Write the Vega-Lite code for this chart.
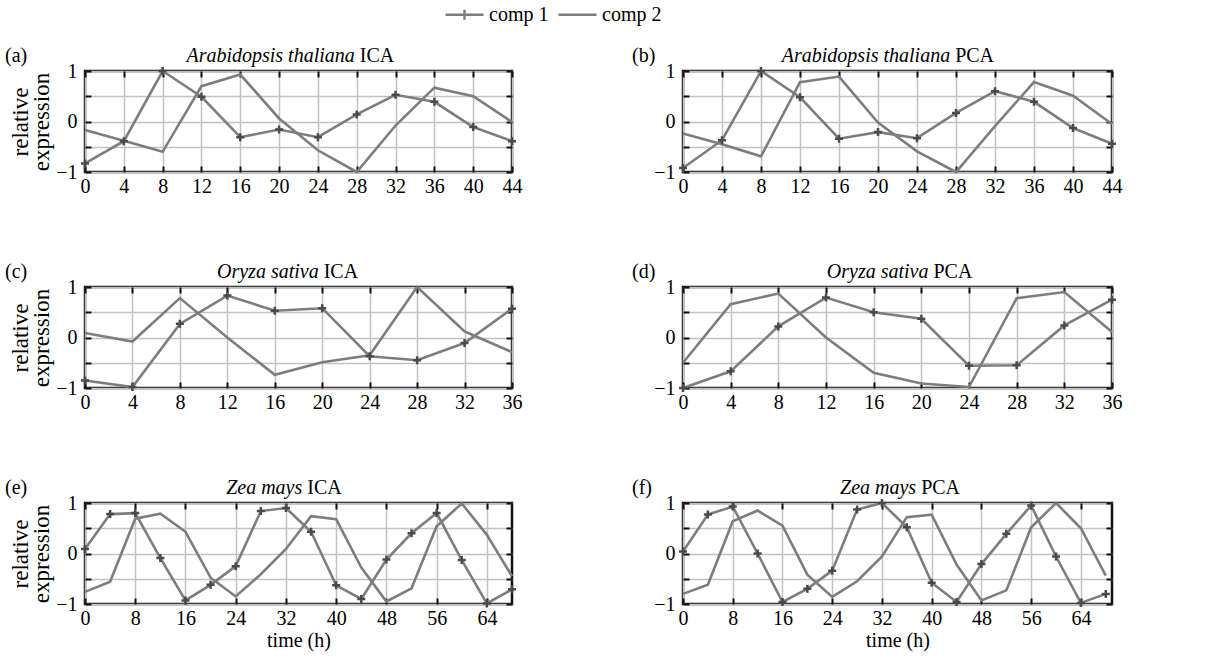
{
"$schema": "https://vega.github.io/schema/vega-lite/v6.json",
"padding": {"left": 3, "top": 3, "right": 5, "bottom": 3},
"datasets": {
"a": [
{"t":0,"comp":"comp 1","v":-0.83},{"t":4,"comp":"comp 1","v":-0.39},{"t":8,"comp":"comp 1","v":1.0},{"t":12,"comp":"comp 1","v":0.49},{"t":16,"comp":"comp 1","v":-0.31},{"t":20,"comp":"comp 1","v":-0.16},{"t":24,"comp":"comp 1","v":-0.31},{"t":28,"comp":"comp 1","v":0.14},{"t":32,"comp":"comp 1","v":0.53},{"t":36,"comp":"comp 1","v":0.39},{"t":40,"comp":"comp 1","v":-0.11},{"t":44,"comp":"comp 1","v":-0.39},
{"t":0,"comp":"comp 2","v":-0.17},{"t":4,"comp":"comp 2","v":-0.38},{"t":8,"comp":"comp 2","v":-0.6},{"t":12,"comp":"comp 2","v":0.7},{"t":16,"comp":"comp 2","v":0.93},{"t":20,"comp":"comp 2","v":0.06},{"t":24,"comp":"comp 2","v":-0.57},{"t":28,"comp":"comp 2","v":-1.0},{"t":32,"comp":"comp 2","v":-0.08},{"t":36,"comp":"comp 2","v":0.67},{"t":40,"comp":"comp 2","v":0.5},{"t":44,"comp":"comp 2","v":-0.01}
],
"b": [
{"t":0,"comp":"comp 1","v":-0.92},{"t":4,"comp":"comp 1","v":-0.37},{"t":8,"comp":"comp 1","v":1.0},{"t":12,"comp":"comp 1","v":0.48},{"t":16,"comp":"comp 1","v":-0.34},{"t":20,"comp":"comp 1","v":-0.21},{"t":24,"comp":"comp 1","v":-0.33},{"t":28,"comp":"comp 1","v":0.17},{"t":32,"comp":"comp 1","v":0.6},{"t":36,"comp":"comp 1","v":0.39},{"t":40,"comp":"comp 1","v":-0.13},{"t":44,"comp":"comp 1","v":-0.44},
{"t":0,"comp":"comp 2","v":-0.24},{"t":4,"comp":"comp 2","v":-0.45},{"t":8,"comp":"comp 2","v":-0.69},{"t":12,"comp":"comp 2","v":0.78},{"t":16,"comp":"comp 2","v":0.89},{"t":20,"comp":"comp 2","v":-0.02},{"t":24,"comp":"comp 2","v":-0.59},{"t":28,"comp":"comp 2","v":-1.0},{"t":32,"comp":"comp 2","v":-0.09},{"t":36,"comp":"comp 2","v":0.78},{"t":40,"comp":"comp 2","v":0.51},{"t":44,"comp":"comp 2","v":-0.05}
],
"c": [
{"t":0,"comp":"comp 1","v":-0.85},{"t":4,"comp":"comp 1","v":-0.98},{"t":8,"comp":"comp 1","v":0.27},{"t":12,"comp":"comp 1","v":0.83},{"t":16,"comp":"comp 1","v":0.53},{"t":20,"comp":"comp 1","v":0.58},{"t":24,"comp":"comp 1","v":-0.37},{"t":28,"comp":"comp 1","v":-0.45},{"t":32,"comp":"comp 1","v":-0.11},{"t":36,"comp":"comp 1","v":0.57},
{"t":0,"comp":"comp 2","v":0.09},{"t":4,"comp":"comp 2","v":-0.08},{"t":8,"comp":"comp 2","v":0.78},{"t":12,"comp":"comp 2","v":0.0},{"t":16,"comp":"comp 2","v":-0.74},{"t":20,"comp":"comp 2","v":-0.49},{"t":24,"comp":"comp 2","v":-0.35},{"t":28,"comp":"comp 2","v":1.0},{"t":32,"comp":"comp 2","v":0.12},{"t":36,"comp":"comp 2","v":-0.29}
],
"d": [
{"t":0,"comp":"comp 1","v":-1.0},{"t":4,"comp":"comp 1","v":-0.67},{"t":8,"comp":"comp 1","v":0.22},{"t":12,"comp":"comp 1","v":0.79},{"t":16,"comp":"comp 1","v":0.5},{"t":20,"comp":"comp 1","v":0.37},{"t":24,"comp":"comp 1","v":-0.56},{"t":28,"comp":"comp 1","v":-0.55},{"t":32,"comp":"comp 1","v":0.24},{"t":36,"comp":"comp 1","v":0.75},
{"t":0,"comp":"comp 2","v":-0.5},{"t":4,"comp":"comp 2","v":0.66},{"t":8,"comp":"comp 2","v":0.87},{"t":12,"comp":"comp 2","v":0.0},{"t":16,"comp":"comp 2","v":-0.7},{"t":20,"comp":"comp 2","v":-0.91},{"t":24,"comp":"comp 2","v":-0.98},{"t":28,"comp":"comp 2","v":0.78},{"t":32,"comp":"comp 2","v":0.9},{"t":36,"comp":"comp 2","v":0.11}
],
"e": [
{"t":0,"comp":"comp 1","v":0.09},{"t":4,"comp":"comp 1","v":0.78},{"t":8,"comp":"comp 1","v":0.8},{"t":12,"comp":"comp 1","v":-0.09},{"t":16,"comp":"comp 1","v":-0.93},{"t":20,"comp":"comp 1","v":-0.62},{"t":24,"comp":"comp 1","v":-0.25},{"t":28,"comp":"comp 1","v":0.84},{"t":32,"comp":"comp 1","v":0.9},{"t":36,"comp":"comp 1","v":0.43},{"t":40,"comp":"comp 1","v":-0.63},{"t":44,"comp":"comp 1","v":-0.9},{"t":48,"comp":"comp 1","v":-0.12},{"t":52,"comp":"comp 1","v":0.4},{"t":56,"comp":"comp 1","v":0.8},{"t":60,"comp":"comp 1","v":-0.13},{"t":64,"comp":"comp 1","v":-0.99},{"t":68,"comp":"comp 1","v":-0.71},
{"t":0,"comp":"comp 2","v":-0.76},{"t":4,"comp":"comp 2","v":-0.56},{"t":8,"comp":"comp 2","v":0.69},{"t":12,"comp":"comp 2","v":0.79},{"t":16,"comp":"comp 2","v":0.43},{"t":20,"comp":"comp 2","v":-0.48},{"t":24,"comp":"comp 2","v":-0.85},{"t":28,"comp":"comp 2","v":-0.41},{"t":32,"comp":"comp 2","v":0.09},{"t":36,"comp":"comp 2","v":0.74},{"t":40,"comp":"comp 2","v":0.68},{"t":44,"comp":"comp 2","v":-0.28},{"t":48,"comp":"comp 2","v":-0.95},{"t":52,"comp":"comp 2","v":-0.69},{"t":56,"comp":"comp 2","v":0.54},{"t":60,"comp":"comp 2","v":0.99},{"t":64,"comp":"comp 2","v":0.37},{"t":68,"comp":"comp 2","v":-0.45}
],
"f": [
{"t":0,"comp":"comp 1","v":0.04},{"t":4,"comp":"comp 1","v":0.77},{"t":8,"comp":"comp 1","v":0.93},{"t":12,"comp":"comp 1","v":0.0},{"t":16,"comp":"comp 1","v":-0.96},{"t":20,"comp":"comp 1","v":-0.7},{"t":24,"comp":"comp 1","v":-0.34},{"t":28,"comp":"comp 1","v":0.87},{"t":32,"comp":"comp 1","v":1.0},{"t":36,"comp":"comp 1","v":0.52},{"t":40,"comp":"comp 1","v":-0.58},{"t":44,"comp":"comp 1","v":-0.96},{"t":48,"comp":"comp 1","v":-0.21},{"t":52,"comp":"comp 1","v":0.39},{"t":56,"comp":"comp 1","v":0.95},{"t":60,"comp":"comp 1","v":-0.06},{"t":64,"comp":"comp 1","v":-0.98},{"t":68,"comp":"comp 1","v":-0.8},
{"t":0,"comp":"comp 2","v":-0.8},{"t":4,"comp":"comp 2","v":-0.62},{"t":8,"comp":"comp 2","v":0.64},{"t":12,"comp":"comp 2","v":0.85},{"t":16,"comp":"comp 2","v":0.55},{"t":20,"comp":"comp 2","v":-0.42},{"t":24,"comp":"comp 2","v":-0.86},{"t":28,"comp":"comp 2","v":-0.55},{"t":32,"comp":"comp 2","v":-0.06},{"t":36,"comp":"comp 2","v":0.72},{"t":40,"comp":"comp 2","v":0.77},{"t":44,"comp":"comp 2","v":-0.22},{"t":48,"comp":"comp 2","v":-0.93},{"t":52,"comp":"comp 2","v":-0.73},{"t":56,"comp":"comp 2","v":0.52},{"t":60,"comp":"comp 2","v":1.0},{"t":64,"comp":"comp 2","v":0.5},{"t":68,"comp":"comp 2","v":-0.44}
]
},
"columns": 2,
"spacing": {"row": 62, "column": 106},
"concat": [
{
"width": 427, "height": 101,
"data": {"name": "a"},
"layer": [
{"mark": {"type": "line", "strokeWidth": 2.6},
 "encoding": {
  "x": {"field": "t", "type": "quantitative", "scale": {"domain": [0,44], "nice": false}, "axis": {"orient": "bottom", "values": [0,4,8,12,16,20,24,28,32,36,40,44], "title": null}},
  "y": {"field": "v", "type": "quantitative", "scale": {"domain": [-1,1], "nice": false}, "axis": {"orient": "left", "values": [-1,-0.5,0,0.5,1], "labelExpr": "datum.value == 0 || abs(datum.value) == 1 ? format(datum.value, 'd') : ''", "title": ["relative", "expression"], "titleFontSize": 23, "titleLineHeight": 21, "titlePadding": 2}},
  "color": {"field": "comp", "type": "nominal", "scale": {"domain": ["comp 1","comp 2"], "range": ["#7d7d7d","#7d7d7d"]},
   "legend": {"orient": "none", "legendX": 368, "legendY": -68, "direction": "horizontal", "title": null, "symbolSize": 400, "symbolStrokeWidth": 2.5, "labelFontSize": 20, "labelFont": "Liberation Serif", "labelColor": "black", "columnPadding": 4, "labelOffset": 13, "padding": 0,
    "encode": {"symbols": {"update": {"shape": {"signal": "datum.value === 'comp 1' ? 'M-1.9,0L1.9,0M0,-0.5L0,0.5' : 'M-1.9,0L1.9,0'"}}}}}}
 }},
{"transform": [{"filter": "datum.comp == 'comp 1'"}],
 "mark": {"type": "point", "shape": "M-1,0L1,0M0,-1L0,1", "size": 64, "filled": false, "stroke": "#4a4a4a", "strokeWidth": 2.5, "opacity": 1},
 "encoding": {
  "x": {"field": "t", "type": "quantitative", "scale": {"domain": [0,44], "nice": false}, "axis": {"orient": "top", "values": [0,4,8,12,16,20,24,28,32,36,40,44], "labels": false, "grid": false, "title": null}},
  "y": {"field": "v", "type": "quantitative", "scale": {"domain": [-1,1], "nice": false}, "axis": {"orient": "right", "values": [-1,-0.5,0,0.5,1], "labels": false, "grid": false, "title": null}}
 }},
{"data": {"values": [{"p": "(a)", "sp": "Arabidopsis thaliana", "m": "ICA"}]},
 "mark": {"type": "text", "fontStyle": "italic", "align": "right", "baseline": "alphabetic", "clip": false},
 "encoding": {"x": {"datum": 27.8, "type": "quantitative", "scale": {"domain": [0,44], "nice": false}, "axis": null}, "y": {"datum": 1.18, "type": "quantitative", "scale": {"domain": [-1,1], "nice": false}, "axis": null}, "text": {"field": "sp"}}},
{"data": {"values": [{"p": "(a)", "sp": "Arabidopsis thaliana", "m": "ICA"}]},
 "mark": {"type": "text", "align": "left", "baseline": "alphabetic", "dx": 5, "clip": false},
 "encoding": {"x": {"datum": 27.8, "type": "quantitative", "scale": {"domain": [0,44], "nice": false}, "axis": null}, "y": {"datum": 1.18, "type": "quantitative", "scale": {"domain": [-1,1], "nice": false}, "axis": null}, "text": {"field": "m"}}},
{"data": {"values": [{"p": "(a)", "sp": "Arabidopsis thaliana", "m": "ICA"}]},
 "mark": {"type": "text", "align": "left", "baseline": "alphabetic", "clip": false},
 "encoding": {"x": {"datum": -8.24, "type": "quantitative", "scale": {"domain": [0,44], "nice": false}, "axis": null}, "y": {"datum": 1.18, "type": "quantitative", "scale": {"domain": [-1,1], "nice": false}, "axis": null}, "text": {"field": "p"}}}
],
"resolve": {"axis": {"x": "independent", "y": "independent"}}
},
{
"width": 429, "height": 101,
"data": {"name": "b"},
"layer": [
{"mark": {"type": "line", "strokeWidth": 2.6},
 "encoding": {
  "x": {"field": "t", "type": "quantitative", "scale": {"domain": [0,44], "nice": false}, "axis": {"orient": "bottom", "values": [0,4,8,12,16,20,24,28,32,36,40,44], "title": null}},
  "y": {"field": "v", "type": "quantitative", "scale": {"domain": [-1,1], "nice": false}, "axis": {"orient": "left", "values": [-1,-0.5,0,0.5,1], "labelExpr": "datum.value == 0 || abs(datum.value) == 1 ? format(datum.value, 'd') : ''", "title": null}},
  "color": {"field": "comp", "type": "nominal", "scale": {"domain": ["comp 1","comp 2"], "range": ["#7d7d7d","#7d7d7d"]}}
 }},
{"transform": [{"filter": "datum.comp == 'comp 1'"}],
 "mark": {"type": "point", "shape": "M-1,0L1,0M0,-1L0,1", "size": 64, "filled": false, "stroke": "#4a4a4a", "strokeWidth": 2.5, "opacity": 1},
 "encoding": {
  "x": {"field": "t", "type": "quantitative", "scale": {"domain": [0,44], "nice": false}, "axis": {"orient": "top", "values": [0,4,8,12,16,20,24,28,32,36,40,44], "labels": false, "grid": false, "title": null}},
  "y": {"field": "v", "type": "quantitative", "scale": {"domain": [-1,1], "nice": false}, "axis": {"orient": "right", "values": [-1,-0.5,0,0.5,1], "labels": false, "grid": false, "title": null}}
 }},
{"data": {"values": [{"p": "(b)", "sp": "Arabidopsis thaliana", "m": "PCA"}]},
 "mark": {"type": "text", "fontStyle": "italic", "align": "right", "baseline": "alphabetic", "clip": false},
 "encoding": {"x": {"datum": 27.4, "type": "quantitative", "scale": {"domain": [0,44], "nice": false}, "axis": null}, "y": {"datum": 1.18, "type": "quantitative", "scale": {"domain": [-1,1], "nice": false}, "axis": null}, "text": {"field": "sp"}}},
{"data": {"values": [{"p": "(b)", "sp": "Arabidopsis thaliana", "m": "PCA"}]},
 "mark": {"type": "text", "align": "left", "baseline": "alphabetic", "dx": 5, "clip": false},
 "encoding": {"x": {"datum": 27.4, "type": "quantitative", "scale": {"domain": [0,44], "nice": false}, "axis": null}, "y": {"datum": 1.18, "type": "quantitative", "scale": {"domain": [-1,1], "nice": false}, "axis": null}, "text": {"field": "m"}}},
{"data": {"values": [{"p": "(b)", "sp": "Arabidopsis thaliana", "m": "PCA"}]},
 "mark": {"type": "text", "align": "left", "baseline": "alphabetic", "clip": false},
 "encoding": {"x": {"datum": -5.23, "type": "quantitative", "scale": {"domain": [0,44], "nice": false}, "axis": null}, "y": {"datum": 1.18, "type": "quantitative", "scale": {"domain": [-1,1], "nice": false}, "axis": null}, "text": {"field": "p"}}}
],
"resolve": {"axis": {"x": "independent", "y": "independent"}}
},
{
"width": 427, "height": 101,
"data": {"name": "c"},
"layer": [
{"mark": {"type": "line", "strokeWidth": 2.6},
 "encoding": {
  "x": {"field": "t", "type": "quantitative", "scale": {"domain": [0,36], "nice": false}, "axis": {"orient": "bottom", "values": [0,4,8,12,16,20,24,28,32,36], "title": null}},
  "y": {"field": "v", "type": "quantitative", "scale": {"domain": [-1,1], "nice": false}, "axis": {"orient": "left", "values": [-1,-0.5,0,0.5,1], "labelExpr": "datum.value == 0 || abs(datum.value) == 1 ? format(datum.value, 'd') : ''", "title": ["relative", "expression"], "titleFontSize": 23, "titleLineHeight": 21, "titlePadding": 2}},
  "color": {"field": "comp", "type": "nominal", "scale": {"domain": ["comp 1","comp 2"], "range": ["#7d7d7d","#7d7d7d"]}}
 }},
{"transform": [{"filter": "datum.comp == 'comp 1'"}],
 "mark": {"type": "point", "shape": "M-1,0L1,0M0,-1L0,1", "size": 64, "filled": false, "stroke": "#4a4a4a", "strokeWidth": 2.5, "opacity": 1},
 "encoding": {
  "x": {"field": "t", "type": "quantitative", "scale": {"domain": [0,36], "nice": false}, "axis": {"orient": "top", "values": [0,4,8,12,16,20,24,28,32,36], "labels": false, "grid": false, "title": null}},
  "y": {"field": "v", "type": "quantitative", "scale": {"domain": [-1,1], "nice": false}, "axis": {"orient": "right", "values": [-1,-0.5,0,0.5,1], "labels": false, "grid": false, "title": null}}
 }},
{"data": {"values": [{"p": "(c)", "sp": "Oryza sativa", "m": "ICA"}]},
 "mark": {"type": "text", "fontStyle": "italic", "align": "right", "baseline": "alphabetic", "clip": false},
 "encoding": {"x": {"datum": 19.7, "type": "quantitative", "scale": {"domain": [0,36], "nice": false}, "axis": null}, "y": {"datum": 1.18, "type": "quantitative", "scale": {"domain": [-1,1], "nice": false}, "axis": null}, "text": {"field": "sp"}}},
{"data": {"values": [{"p": "(c)", "sp": "Oryza sativa", "m": "ICA"}]},
 "mark": {"type": "text", "align": "left", "baseline": "alphabetic", "dx": 5, "clip": false},
 "encoding": {"x": {"datum": 19.7, "type": "quantitative", "scale": {"domain": [0,36], "nice": false}, "axis": null}, "y": {"datum": 1.18, "type": "quantitative", "scale": {"domain": [-1,1], "nice": false}, "axis": null}, "text": {"field": "m"}}},
{"data": {"values": [{"p": "(c)", "sp": "Oryza sativa", "m": "ICA"}]},
 "mark": {"type": "text", "align": "left", "baseline": "alphabetic", "clip": false},
 "encoding": {"x": {"datum": -6.74, "type": "quantitative", "scale": {"domain": [0,36], "nice": false}, "axis": null}, "y": {"datum": 1.18, "type": "quantitative", "scale": {"domain": [-1,1], "nice": false}, "axis": null}, "text": {"field": "p"}}}
],
"resolve": {"axis": {"x": "independent", "y": "independent"}}
},
{
"width": 429, "height": 101,
"data": {"name": "d"},
"layer": [
{"mark": {"type": "line", "strokeWidth": 2.6},
 "encoding": {
  "x": {"field": "t", "type": "quantitative", "scale": {"domain": [0,36], "nice": false}, "axis": {"orient": "bottom", "values": [0,4,8,12,16,20,24,28,32,36], "title": null}},
  "y": {"field": "v", "type": "quantitative", "scale": {"domain": [-1,1], "nice": false}, "axis": {"orient": "left", "values": [-1,-0.5,0,0.5,1], "labelExpr": "datum.value == 0 || abs(datum.value) == 1 ? format(datum.value, 'd') : ''", "title": null}},
  "color": {"field": "comp", "type": "nominal", "scale": {"domain": ["comp 1","comp 2"], "range": ["#7d7d7d","#7d7d7d"]}}
 }},
{"transform": [{"filter": "datum.comp == 'comp 1'"}],
 "mark": {"type": "point", "shape": "M-1,0L1,0M0,-1L0,1", "size": 64, "filled": false, "stroke": "#4a4a4a", "strokeWidth": 2.5, "opacity": 1},
 "encoding": {
  "x": {"field": "t", "type": "quantitative", "scale": {"domain": [0,36], "nice": false}, "axis": {"orient": "top", "values": [0,4,8,12,16,20,24,28,32,36], "labels": false, "grid": false, "title": null}},
  "y": {"field": "v", "type": "quantitative", "scale": {"domain": [-1,1], "nice": false}, "axis": {"orient": "right", "values": [-1,-0.5,0,0.5,1], "labels": false, "grid": false, "title": null}}
 }},
{"data": {"values": [{"p": "(d)", "sp": "Oryza sativa", "m": "PCA"}]},
 "mark": {"type": "text", "fontStyle": "italic", "align": "right", "baseline": "alphabetic", "clip": false},
 "encoding": {"x": {"datum": 20.6, "type": "quantitative", "scale": {"domain": [0,36], "nice": false}, "axis": null}, "y": {"datum": 1.18, "type": "quantitative", "scale": {"domain": [-1,1], "nice": false}, "axis": null}, "text": {"field": "sp"}}},
{"data": {"values": [{"p": "(d)", "sp": "Oryza sativa", "m": "PCA"}]},
 "mark": {"type": "text", "align": "left", "baseline": "alphabetic", "dx": 5, "clip": false},
 "encoding": {"x": {"datum": 20.6, "type": "quantitative", "scale": {"domain": [0,36], "nice": false}, "axis": null}, "y": {"datum": 1.18, "type": "quantitative", "scale": {"domain": [-1,1], "nice": false}, "axis": null}, "text": {"field": "m"}}},
{"data": {"values": [{"p": "(d)", "sp": "Oryza sativa", "m": "PCA"}]},
 "mark": {"type": "text", "align": "left", "baseline": "alphabetic", "clip": false},
 "encoding": {"x": {"datum": -4.28, "type": "quantitative", "scale": {"domain": [0,36], "nice": false}, "axis": null}, "y": {"datum": 1.18, "type": "quantitative", "scale": {"domain": [-1,1], "nice": false}, "axis": null}, "text": {"field": "p"}}}
],
"resolve": {"axis": {"x": "independent", "y": "independent"}}
},
{
"width": 427, "height": 101,
"data": {"name": "e"},
"layer": [
{"mark": {"type": "line", "strokeWidth": 2.6},
 "encoding": {
  "x": {"field": "t", "type": "quantitative", "scale": {"domain": [0,68], "nice": false}, "axis": {"orient": "bottom", "values": [0,8,16,24,32,40,48,56,64], "title": "time (h)", "titlePadding": 2}},
  "y": {"field": "v", "type": "quantitative", "scale": {"domain": [-1,1], "nice": false}, "axis": {"orient": "left", "values": [-1,-0.5,0,0.5,1], "labelExpr": "datum.value == 0 || abs(datum.value) == 1 ? format(datum.value, 'd') : ''", "title": ["relative", "expression"], "titleFontSize": 23, "titleLineHeight": 21, "titlePadding": 2}},
  "color": {"field": "comp", "type": "nominal", "scale": {"domain": ["comp 1","comp 2"], "range": ["#7d7d7d","#7d7d7d"]}}
 }},
{"transform": [{"filter": "datum.comp == 'comp 1'"}],
 "mark": {"type": "point", "shape": "M-1,0L1,0M0,-1L0,1", "size": 64, "filled": false, "stroke": "#4a4a4a", "strokeWidth": 2.5, "opacity": 1},
 "encoding": {
  "x": {"field": "t", "type": "quantitative", "scale": {"domain": [0,68], "nice": false}, "axis": {"orient": "top", "values": [0,8,16,24,32,40,48,56,64], "labels": false, "grid": false, "title": null}},
  "y": {"field": "v", "type": "quantitative", "scale": {"domain": [-1,1], "nice": false}, "axis": {"orient": "right", "values": [-1,-0.5,0,0.5,1], "labels": false, "grid": false, "title": null}}
 }},
{"data": {"values": [{"p": "(e)", "sp": "Zea mays", "m": "ICA"}]},
 "mark": {"type": "text", "fontStyle": "italic", "align": "right", "baseline": "alphabetic", "clip": false},
 "encoding": {"x": {"datum": 34.6, "type": "quantitative", "scale": {"domain": [0,68], "nice": false}, "axis": null}, "y": {"datum": 1.18, "type": "quantitative", "scale": {"domain": [-1,1], "nice": false}, "axis": null}, "text": {"field": "sp"}}},
{"data": {"values": [{"p": "(e)", "sp": "Zea mays", "m": "ICA"}]},
 "mark": {"type": "text", "align": "left", "baseline": "alphabetic", "dx": 5, "clip": false},
 "encoding": {"x": {"datum": 34.6, "type": "quantitative", "scale": {"domain": [0,68], "nice": false}, "axis": null}, "y": {"datum": 1.18, "type": "quantitative", "scale": {"domain": [-1,1], "nice": false}, "axis": null}, "text": {"field": "m"}}},
{"data": {"values": [{"p": "(e)", "sp": "Zea mays", "m": "ICA"}]},
 "mark": {"type": "text", "align": "left", "baseline": "alphabetic", "clip": false},
 "encoding": {"x": {"datum": -12.74, "type": "quantitative", "scale": {"domain": [0,68], "nice": false}, "axis": null}, "y": {"datum": 1.18, "type": "quantitative", "scale": {"domain": [-1,1], "nice": false}, "axis": null}, "text": {"field": "p"}}}
],
"resolve": {"axis": {"x": "independent", "y": "independent"}}
},
{
"width": 429, "height": 101,
"data": {"name": "f"},
"layer": [
{"mark": {"type": "line", "strokeWidth": 2.6},
 "encoding": {
  "x": {"field": "t", "type": "quantitative", "scale": {"domain": [0,69], "nice": false}, "axis": {"orient": "bottom", "values": [0,8,16,24,32,40,48,56,64], "title": "time (h)", "titlePadding": 2}},
  "y": {"field": "v", "type": "quantitative", "scale": {"domain": [-1,1], "nice": false}, "axis": {"orient": "left", "values": [-1,-0.5,0,0.5,1], "labelExpr": "datum.value == 0 || abs(datum.value) == 1 ? format(datum.value, 'd') : ''", "title": null}},
  "color": {"field": "comp", "type": "nominal", "scale": {"domain": ["comp 1","comp 2"], "range": ["#7d7d7d","#7d7d7d"]}}
 }},
{"transform": [{"filter": "datum.comp == 'comp 1'"}],
 "mark": {"type": "point", "shape": "M-1,0L1,0M0,-1L0,1", "size": 64, "filled": false, "stroke": "#4a4a4a", "strokeWidth": 2.5, "opacity": 1},
 "encoding": {
  "x": {"field": "t", "type": "quantitative", "scale": {"domain": [0,69], "nice": false}, "axis": {"orient": "top", "values": [0,8,16,24,32,40,48,56,64], "labels": false, "grid": false, "title": null}},
  "y": {"field": "v", "type": "quantitative", "scale": {"domain": [-1,1], "nice": false}, "axis": {"orient": "right", "values": [-1,-0.5,0,0.5,1], "labels": false, "grid": false, "title": null}}
 }},
{"data": {"values": [{"p": "(f)", "sp": "Zea mays", "m": "PCA"}]},
 "mark": {"type": "text", "fontStyle": "italic", "align": "right", "baseline": "alphabetic", "clip": false},
 "encoding": {"x": {"datum": 37.5, "type": "quantitative", "scale": {"domain": [0,69], "nice": false}, "axis": null}, "y": {"datum": 1.18, "type": "quantitative", "scale": {"domain": [-1,1], "nice": false}, "axis": null}, "text": {"field": "sp"}}},
{"data": {"values": [{"p": "(f)", "sp": "Zea mays", "m": "PCA"}]},
 "mark": {"type": "text", "align": "left", "baseline": "alphabetic", "dx": 5, "clip": false},
 "encoding": {"x": {"datum": 37.5, "type": "quantitative", "scale": {"domain": [0,69], "nice": false}, "axis": null}, "y": {"datum": 1.18, "type": "quantitative", "scale": {"domain": [-1,1], "nice": false}, "axis": null}, "text": {"field": "m"}}},
{"data": {"values": [{"p": "(f)", "sp": "Zea mays", "m": "PCA"}]},
 "mark": {"type": "text", "align": "left", "baseline": "alphabetic", "clip": false},
 "encoding": {"x": {"datum": -8.2, "type": "quantitative", "scale": {"domain": [0,69], "nice": false}, "axis": null}, "y": {"datum": 1.18, "type": "quantitative", "scale": {"domain": [-1,1], "nice": false}, "axis": null}, "text": {"field": "p"}}}
],
"resolve": {"axis": {"x": "independent", "y": "independent"}}
}
],
"config": {
 "font": "Liberation Serif",
 "view": {"stroke": "#111111", "strokeWidth": 2.5},
 "axis": {"labelFont": "Liberation Serif", "labelFontSize": 20, "labelColor": "black", "titleFont": "Liberation Serif", "titleFontSize": 20, "titleFontWeight": "normal", "titleColor": "black", "domain": false, "tickColor": "#111111", "tickWidth": 2, "tickSize": -6, "gridColor": "#c2c2c2", "gridWidth": 1.5, "gridOpacity": 1, "labelFlush": false, "labelOverlap": false},
 "axisX": {"labelPadding": 10},
 "axisY": {"labelPadding": 14},
 "text": {"font": "Liberation Serif", "fontSize": 20, "color": "black"}
}
}
